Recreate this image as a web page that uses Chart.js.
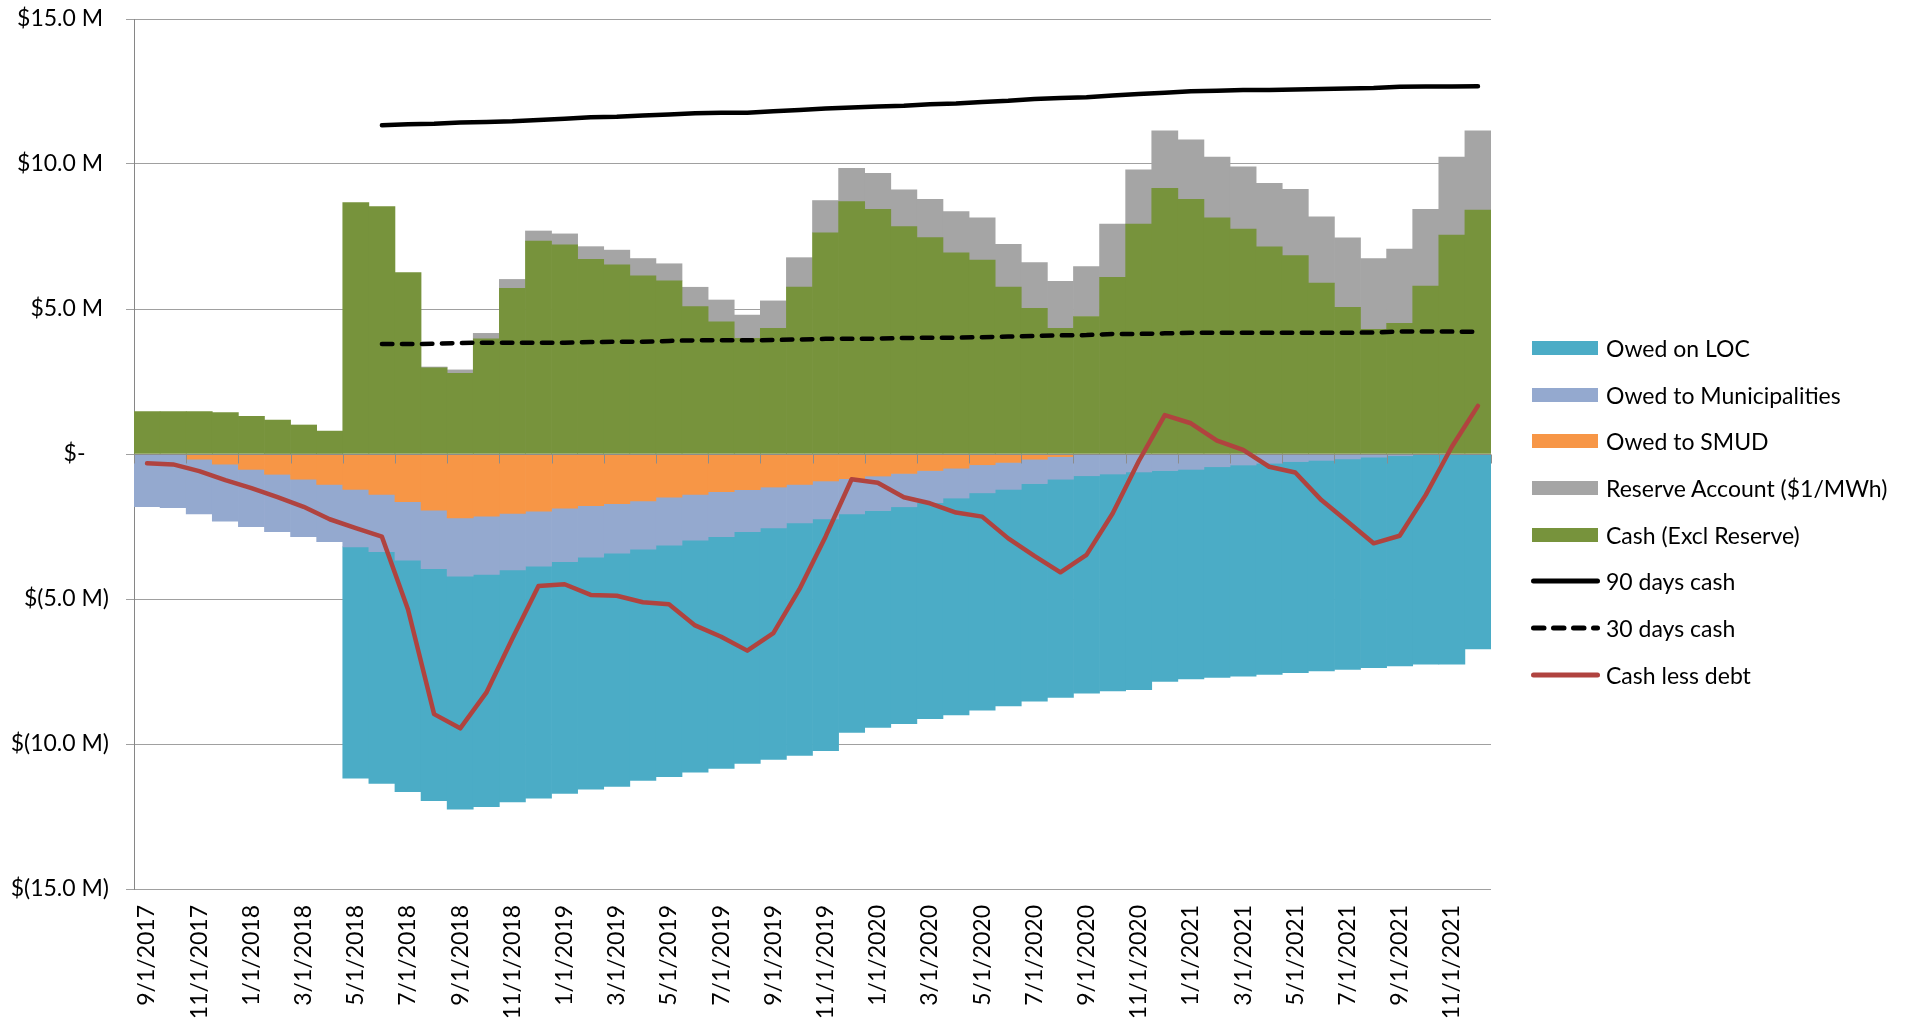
<!DOCTYPE html>
<html>
<head>
<meta charset="utf-8">
<title>Cash position vs. debt</title>
<script src="https://cdn.jsdelivr.net/npm/chart.js@4.4.1/dist/chart.umd.min.js"></script>
<style>
  html, body { margin: 0; padding: 0; background: #fff; overflow: hidden; }
  #wrap { position: relative; width: 1919px; height: 1021px; }
  #cashChart { display: block; }
  #legend { position: absolute; left: 1529px; top: 324.6px; font: 23px Lato, sans-serif; color: #000; }
  .item { display: flex; align-items: center; height: 46.7px; white-space: nowrap; }
  .swatch { width: 72px; height: 14px; display: flex; align-items: center; margin-right: 5px; }
  .swatch .box { width: 66px; height: 14px; margin-left: 3px; }
</style>
</head>
<body>
<div id="wrap">
  <canvas id="cashChart" width="1919" height="1021"></canvas>
  <div id="legend"></div>
</div>
<script>
// month-start dates, one bar per month
const categories = [
  '9/1/2017', '10/1/2017', '11/1/2017', '12/1/2017',
  '1/1/2018', '2/1/2018', '3/1/2018', '4/1/2018', '5/1/2018', '6/1/2018',
  '7/1/2018', '8/1/2018', '9/1/2018', '10/1/2018', '11/1/2018', '12/1/2018',
  '1/1/2019', '2/1/2019', '3/1/2019', '4/1/2019', '5/1/2019', '6/1/2019',
  '7/1/2019', '8/1/2019', '9/1/2019', '10/1/2019', '11/1/2019', '12/1/2019',
  '1/1/2020', '2/1/2020', '3/1/2020', '4/1/2020', '5/1/2020', '6/1/2020',
  '7/1/2020', '8/1/2020', '9/1/2020', '10/1/2020', '11/1/2020', '12/1/2020',
  '1/1/2021', '2/1/2021', '3/1/2021', '4/1/2021', '5/1/2021', '6/1/2021',
  '7/1/2021', '8/1/2021', '9/1/2021', '10/1/2021', '11/1/2021', '12/1/2021'
];

// all values in $ millions
const cashExclReserve = [
  1.46, 1.46, 1.46, 1.43, 1.30, 1.17, 1.00, 0.79, 8.67, 8.53,
  6.26, 2.97, 2.78, 3.97, 5.71, 7.34, 7.21, 6.71, 6.52, 6.14,
  5.97, 5.08, 4.56, 3.99, 4.33, 5.76, 7.63, 8.70, 8.44, 7.84,
  7.46, 6.94, 6.69, 5.76, 5.02, 4.33, 4.74, 6.09, 7.93, 9.16,
  8.78, 8.14, 7.76, 7.14, 6.84, 5.89, 5.06, 4.30, 4.51, 5.79,
  7.55, 8.41
];
const reserveAccount = [
  null, null, null, null, null, null, null, null, null, null,
  null, 0.03, 0.12, 0.19, 0.31, 0.35, 0.38, 0.44, 0.51, 0.60,
  0.59, 0.67, 0.75, 0.80, 0.95, 1.01, 1.11, 1.15, 1.24, 1.27,
  1.32, 1.42, 1.45, 1.47, 1.58, 1.62, 1.72, 1.84, 1.87, 1.98,
  2.05, 2.10, 2.14, 2.19, 2.29, 2.29, 2.39, 2.44, 2.56, 2.65,
  2.69, 2.73
];
const owedToSMUD = [
  null, null, -0.18, -0.35, -0.53, -0.70, -0.87, -1.05, -1.22, -1.39,
  -1.64, -1.94, -2.20, -2.14, -2.05, -1.97, -1.87, -1.78, -1.71, -1.62,
  -1.49, -1.39, -1.30, -1.23, -1.14, -1.05, -0.93, -0.85, -0.76, -0.67,
  -0.57, -0.49, -0.37, -0.29, -0.18, -0.09, null, null, null, null,
  null, null, null, null, null, null, null, null, null, null,
  null, null
];
const owedToMunicipalities = [
  -1.82, -1.85, -1.89, -1.97, -1.98, -1.98, -1.98, -1.97, -1.98, -1.98,
  -2.02, -2.01, -2.01, -2.01, -1.95, -1.90, -1.84, -1.78, -1.71, -1.66,
  -1.65, -1.58, -1.55, -1.45, -1.41, -1.33, -1.31, -1.22, -1.19, -1.15,
  -1.11, -1.03, -0.97, -0.93, -0.84, -0.78, -0.75, -0.69, -0.62, -0.57,
  -0.53, -0.44, -0.38, -0.32, -0.26, -0.22, -0.17, -0.11, -0.06, -0.02,
  -0.01, null
];
const owedOnLOC = [
  null, null, null, null, null, null, null, null, -7.98, -7.99,
  -7.98, -8.00, -8.04, -8.01, -8.00, -8.00, -7.99, -8.00, -8.04, -7.98,
  -7.99, -8.00, -7.99, -7.99, -7.98, -8.01, -7.99, -7.53, -7.48, -7.48,
  -7.45, -7.48, -7.49, -7.47, -7.50, -7.52, -7.50, -7.48, -7.51, -7.27,
  -7.23, -7.26, -7.28, -7.28, -7.28, -7.26, -7.26, -7.26, -7.25, -7.23,
  -7.24, -6.72
];
const ninetyDaysCash = [
  null, null, null, null, null, null, null, null, null, 11.34,
  11.37, 11.39, 11.43, 11.45, 11.47, 11.52, 11.56, 11.61, 11.63, 11.67,
  11.71, 11.75, 11.77, 11.77, 11.82, 11.86, 11.91, 11.95, 11.98, 12.01,
  12.06, 12.09, 12.14, 12.18, 12.24, 12.28, 12.30, 12.36, 12.41, 12.46,
  12.51, 12.53, 12.55, 12.55, 12.57, 12.59, 12.60, 12.62, 12.66, 12.67,
  12.67, 12.68
];
const thirtyDaysCash = [
  null, null, null, null, null, null, null, null, null, 3.79,
  3.79, 3.80, 3.83, 3.84, 3.84, 3.84, 3.84, 3.86, 3.87, 3.87,
  3.90, 3.92, 3.92, 3.92, 3.93, 3.95, 3.97, 3.97, 3.98, 4.00,
  4.01, 4.01, 4.03, 4.05, 4.07, 4.09, 4.10, 4.14, 4.14, 4.16,
  4.18, 4.18, 4.18, 4.18, 4.18, 4.18, 4.18, 4.19, 4.22, 4.22,
  4.22, 4.21
];
const cashLessDebt = [
  -0.32, -0.36, -0.59, -0.90, -1.18, -1.49, -1.82, -2.25, -2.56, -2.85,
  -5.36, -8.97, -9.46, -8.23, -6.36, -4.55, -4.49, -4.86, -4.89, -5.11,
  -5.18, -5.91, -6.30, -6.78, -6.18, -4.66, -2.85, -0.87, -0.99, -1.49,
  -1.70, -2.02, -2.16, -2.91, -3.51, -4.08, -3.48, -2.05, -0.25, 1.34,
  1.06, 0.46, 0.14, -0.44, -0.64, -1.59, -2.33, -3.08, -2.82, -1.41,
  0.25, 1.66
];

const FONT = 'Lato';
Chart.defaults.font.family = FONT;
Chart.defaults.color = '#000';

// accounting style labels: $10.0 M / $(5.0 M) / $-
function formatMillions(v) {
  if (v === 0) return '$-    ';
  if (v > 0) return '$' + v.toFixed(1) + ' M ';
  return '$(' + (-v).toFixed(1) + ' M)';
}

function barSet(label, data, color) {
  return {
    type: 'bar', label: label, data: data,
    backgroundColor: color, borderWidth: 0,
    barPercentage: 1, categoryPercentage: 1,
    stack: 'money', order: 1
  };
}

function lineSet(label, data, color, width, dash, stackId) {
  return {
    type: 'line', label: label, data: data,
    borderColor: color, backgroundColor: color,
    borderWidth: width, borderDash: dash,
    borderCapStyle: 'round', borderJoinStyle: 'round',
    pointRadius: 0, tension: 0, fill: false,
    stack: stackId, order: 0
  };
}

// horizontal axis line at $0 with tick marks every two months, drawn over the bars
const zeroAxis = {
  id: 'zeroAxis',
  afterDatasetDraw(chart, args) {
    if (args.index !== 0) return; // cash bars are the last bars drawn
    const { ctx, chartArea, scales } = chart;
    const y0 = Math.round(scales.y.getPixelForValue(0)) + 0.5;
    const step = (chartArea.right - chartArea.left) / categories.length;
    ctx.save();
    ctx.strokeStyle = '#8c8c8c';
    ctx.lineWidth = 1;
    ctx.beginPath();
    ctx.moveTo(chartArea.left, y0);
    ctx.lineTo(chartArea.right, y0);
    for (let i = 0; i <= categories.length; i += 2) {
      const px = Math.round(chartArea.left + i * step) + 0.5;
      ctx.moveTo(px, y0);
      ctx.lineTo(px, y0 + 9);
    }
    ctx.stroke();
    ctx.restore();
  }
};

const ctx = document.getElementById('cashChart').getContext('2d');
const cashChart = new Chart(ctx, {
  type: 'bar',
  data: {
    labels: categories,
    datasets: [
      barSet('Cash (Excl Reserve)', cashExclReserve, '#77933C'),
      barSet('Reserve Account ($1/MWh)', reserveAccount, '#A5A5A5'),
      barSet('Owed to SMUD', owedToSMUD, '#F79646'),
      barSet('Owed to Municipalities', owedToMunicipalities, '#94A9CF'),
      barSet('Owed on LOC', owedOnLOC, '#4BACC6'),
      lineSet('90 days cash', ninetyDaysCash, '#000000', 4.5, [], 'l90'),
      lineSet('30 days cash', thirtyDaysCash, '#000000', 4.5, [10.5, 9.5], 'l30'),
      lineSet('Cash less debt', cashLessDebt, '#B0433F', 4.5, [], 'lnet')
    ]
  },
  options: {
    responsive: false,
    animation: false,
    layout: { padding: { top: 19, right: 428, bottom: 0, left: 0 } },
    scales: {
      x: {
        stacked: true,
        grid: { display: false, drawTicks: false },
        border: { display: false },
        ticks: {
          autoSkip: false,
          maxRotation: 90,
          minRotation: 90,
          padding: 16,
          font: { size: 23 },
          callback: (val, i) => (i % 2 === 0 ? categories[i] : '')
        },
        afterFit: s => { s.height = 132; }
      },
      y: {
        stacked: true,
        min: -15,
        max: 15,
        ticks: { stepSize: 5, padding: 17, font: { size: 23 }, callback: formatMillions },
        grid: { color: '#A0A0A0', lineWidth: 1, tickLength: 8 },
        border: { color: '#868686' },
        // fixed axis width; tick padding must not push the plot down
        afterFit: s => { s.width = 134; s.paddingTop = 0; s.paddingBottom = 0; }
      }
    },
    plugins: {
      legend: { display: false },
      tooltip: { enabled: false }
    }
  },
  plugins: [zeroAxis]
});

// legend on the right, in the same order as the original
const legendOrder = [4, 3, 2, 1, 0, 5, 6, 7];
const legendEl = document.getElementById('legend');
legendOrder.forEach(idx => {
  const ds = cashChart.data.datasets[idx];
  const row = document.createElement('div');
  row.className = 'item';
  const sw = document.createElement('div');
  sw.className = 'swatch';
  if (ds.type === 'bar') {
    const box = document.createElement('div');
    box.className = 'box';
    box.style.background = ds.backgroundColor;
    sw.appendChild(box);
  } else {
    const dash = ds.borderDash.length ? ds.borderDash.join(' ') : 'none';
    sw.innerHTML = '<svg width="72" height="14"><line x1="4.5" y1="7" x2="68.5" y2="7" stroke="' +
      ds.borderColor + '" stroke-width="5" stroke-linecap="round" stroke-dasharray="' + dash + '"/></svg>';
  }
  const txt = document.createElement('span');
  txt.textContent = ds.label;
  row.appendChild(sw);
  row.appendChild(txt);
  legendEl.appendChild(row);
});
</script>
</body>
</html>
